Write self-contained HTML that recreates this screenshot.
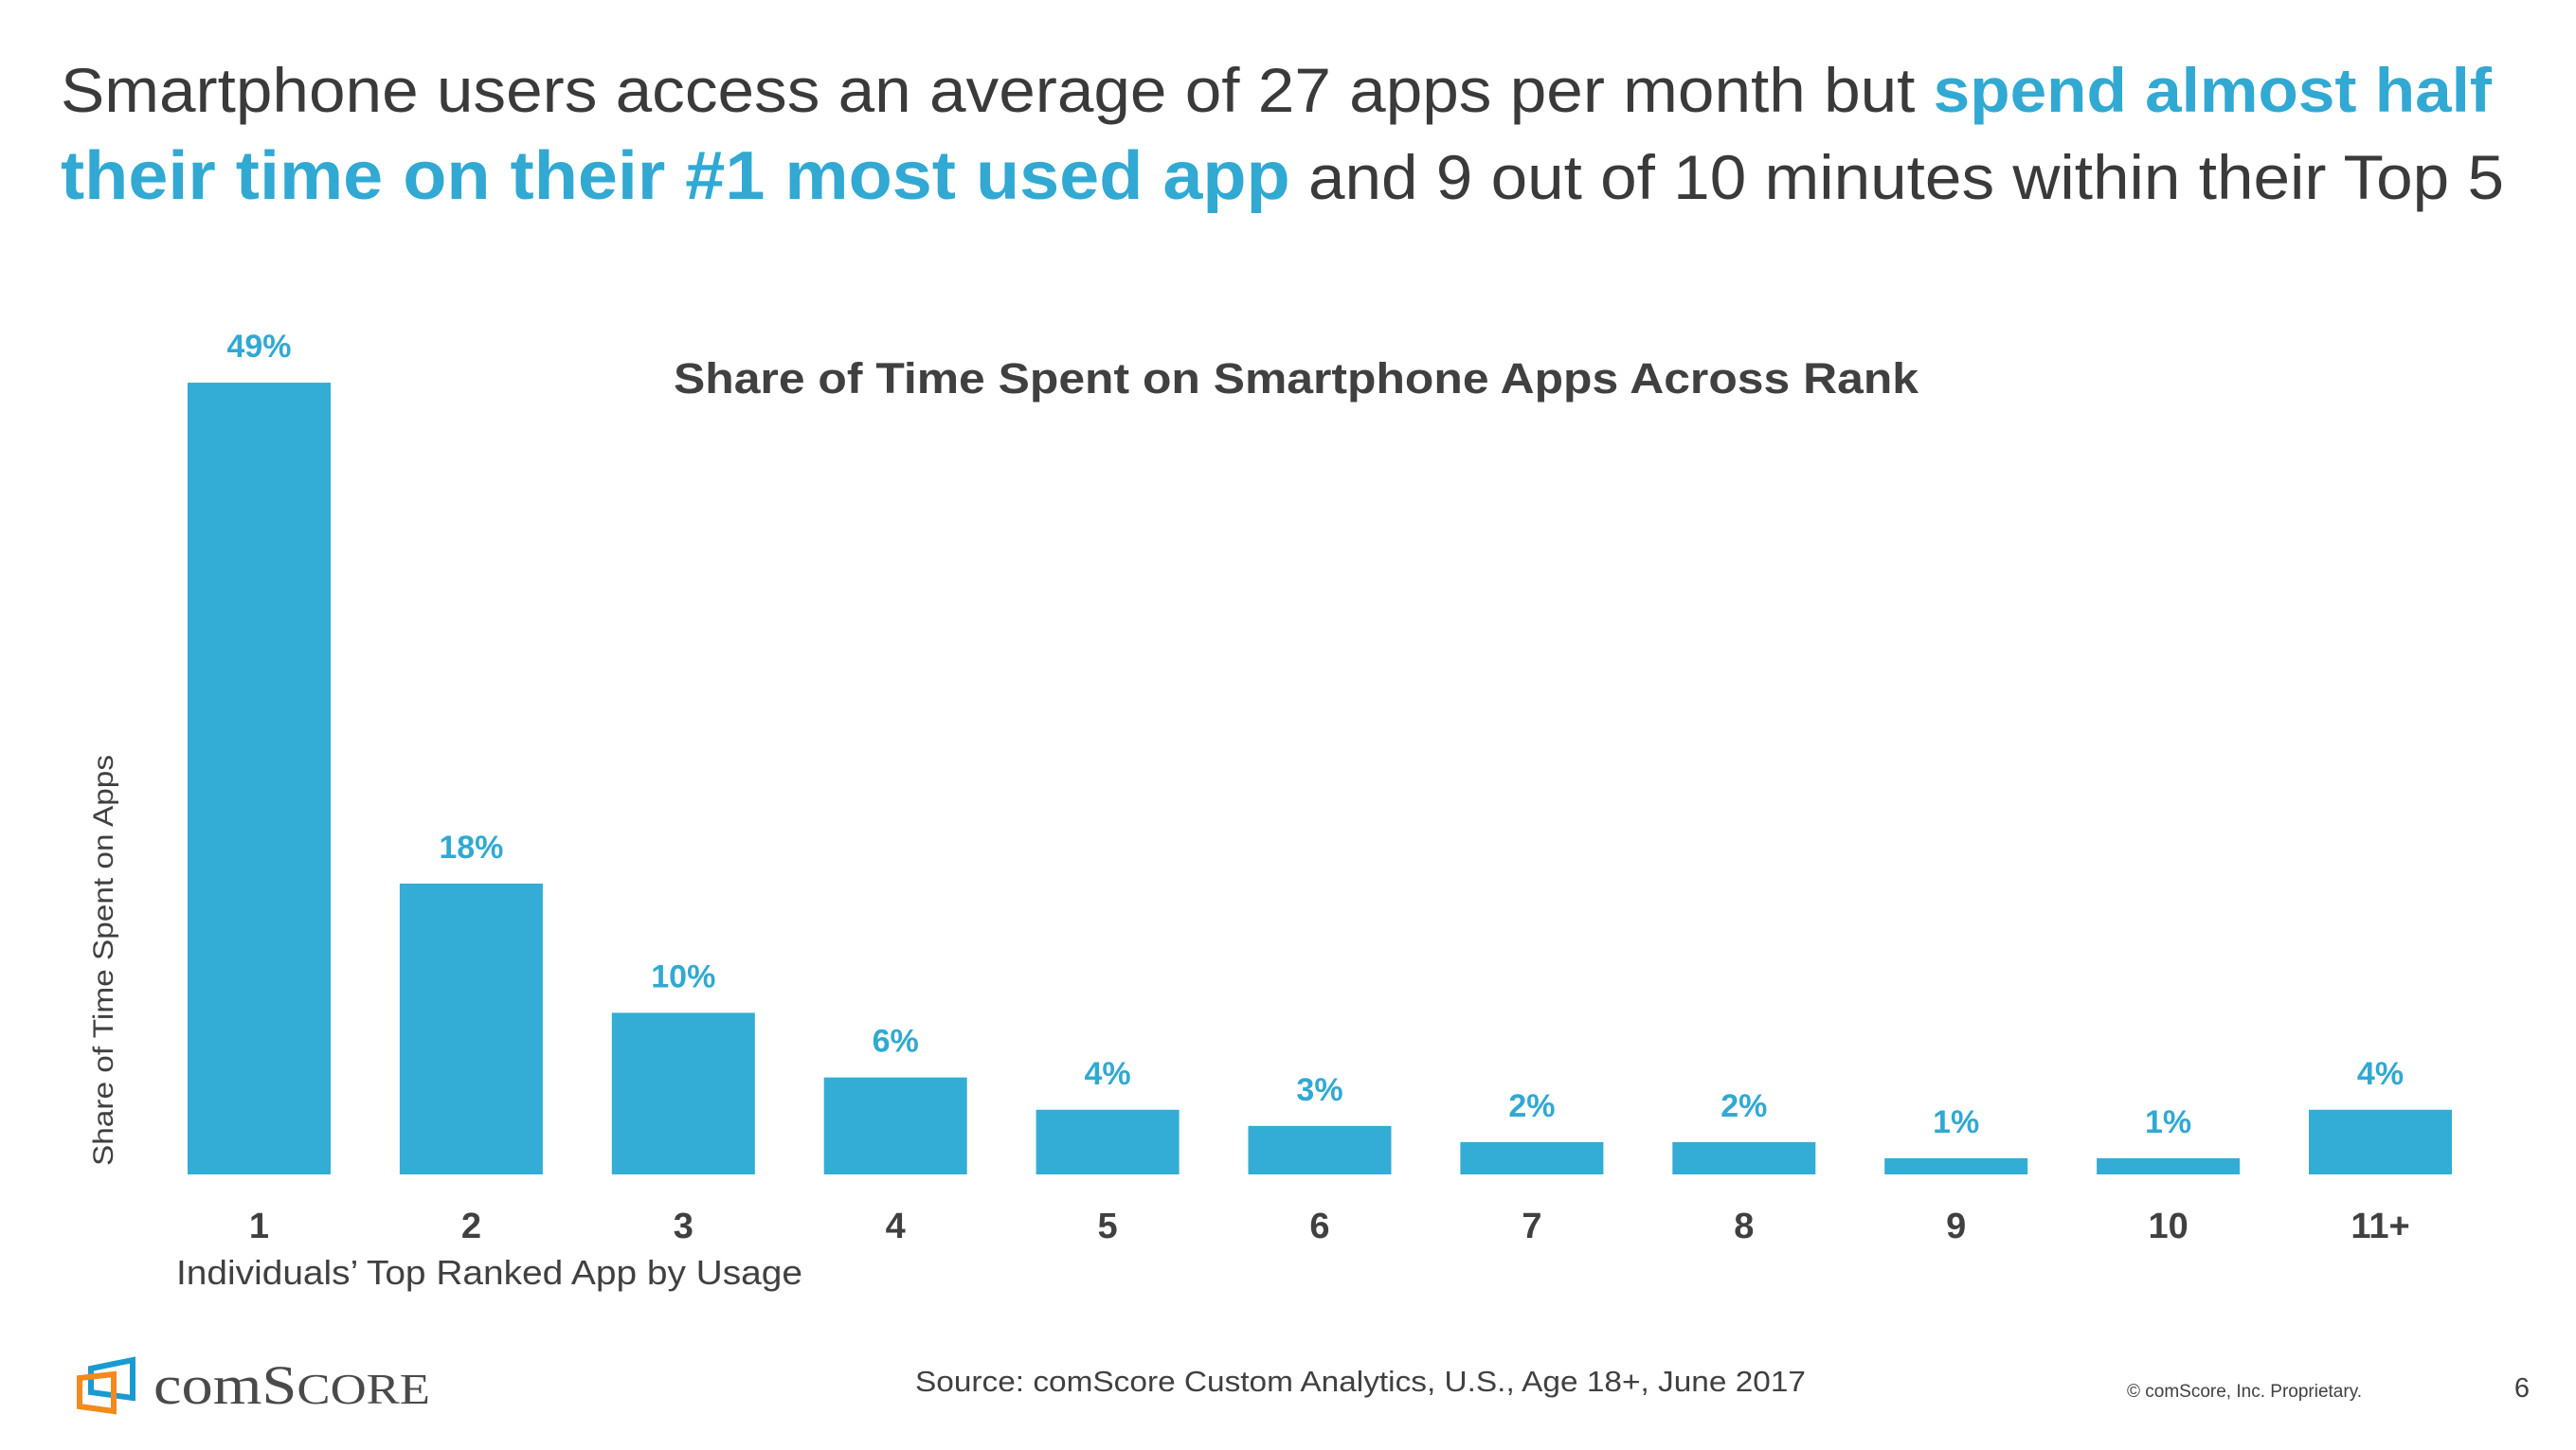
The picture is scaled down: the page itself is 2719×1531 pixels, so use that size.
<!DOCTYPE html>
<html><head><meta charset="utf-8"><style>
html,body{margin:0;padding:0;background:#fff;}
svg{display:block;font-family:"Liberation Sans",Arial,sans-serif;}
</style></head><body>
<svg id="chart" width="2719" height="1531" viewBox="0 0 2719 1531" xmlns="http://www.w3.org/2000/svg">
<text x="64" y="118" font-size="66" fill="#3a3a3a" textLength="2566" lengthAdjust="spacingAndGlyphs">Smartphone users access an average of 27 apps per month but <tspan font-weight="bold" fill="#31a9d3">spend almost half</tspan></text>
<text x="64" y="210" font-size="66" fill="#3a3a3a" textLength="2579" lengthAdjust="spacingAndGlyphs"><tspan font-weight="bold" fill="#31a9d3" font-size="72">their time on their #1 most used app</tspan> and 9 out of 10 minutes within their Top 5</text>
<text x="711" y="415" font-size="45" font-weight="bold" fill="#404040" textLength="1314" lengthAdjust="spacingAndGlyphs">Share of Time Spent on Smartphone Apps Across Rank</text>
<text transform="translate(119,1014) rotate(-90)" font-size="30" fill="#404040" text-anchor="middle" textLength="434" lengthAdjust="spacingAndGlyphs">Share of Time Spent on Apps</text>
<text x="186" y="1356" font-size="36" fill="#404040" textLength="661" lengthAdjust="spacingAndGlyphs">Individuals’ Top Ranked App by Usage</text>
<g id="bars"></g>
<g>
<path d="M96 1445 L140 1436 L140 1476 L96 1470 Z" fill="none" stroke="#1a9bd0" stroke-width="6"/>
<path d="M84 1455 L120 1451 L120 1490 L84 1485 Z" fill="none" stroke="#f28a1e" stroke-width="6"/>
<text x="162" y="1482" font-family="Liberation Serif,serif" font-size="58" fill="#4a4a4a" textLength="292" lengthAdjust="spacingAndGlyphs">comS<tspan font-size="46">CORE</tspan></text>
</g>
<text x="966" y="1469" font-size="31" fill="#404040" textLength="940" lengthAdjust="spacingAndGlyphs">Source: comScore Custom Analytics, U.S., Age 18+, June 2017</text>
<text x="2245" y="1475" font-size="19" fill="#404040">© comScore, Inc. Proprietary.</text>
<text x="2662" y="1475" font-size="29" fill="#404040" text-anchor="middle">6</text>
</svg>
<script>
const categories = ["1","2","3","4","5","6","7","8","9","10","11+"];
const values = [49,18,10,6,4,3,2,2,1,1,4];
const valueLabels = ["49%","18%","10%","6%","4%","3%","2%","2%","1%","1%","4%"];
const NS="http://www.w3.org/2000/svg";
const g=document.getElementById("bars");
const baseY=1240, pxPer=17.06, x0=198, step=223.9, bw=151;
function xScale(i){return x0+i*step;}
function yScale(v){return baseY-v*pxPer;}
categories.forEach((c,i)=>{
  const x=xScale(i), y=yScale(values[i]);
  const r=document.createElementNS(NS,"rect");
  r.setAttribute("x",x);r.setAttribute("y",y);r.setAttribute("width",bw);r.setAttribute("height",baseY-y);
  r.setAttribute("fill","#33acd6");
  
  
  g.appendChild(r);
  const t=document.createElementNS(NS,"text");
  t.setAttribute("x",x+bw/2);t.setAttribute("y",y-27);
  t.setAttribute("text-anchor","middle");t.setAttribute("font-size","34");t.setAttribute("font-weight","bold");t.setAttribute("fill","#31a9d3");
  t.textContent=valueLabels[i];
  
  
  g.appendChild(t);
  const l=document.createElementNS(NS,"text");
  l.setAttribute("x",x+bw/2);l.setAttribute("y",1307);
  l.setAttribute("text-anchor","middle");l.setAttribute("font-size","38");l.setAttribute("font-weight","bold");l.setAttribute("fill","#404040");
  l.textContent=c;
  
  
  g.appendChild(l);
});
</script>
</body></html>
